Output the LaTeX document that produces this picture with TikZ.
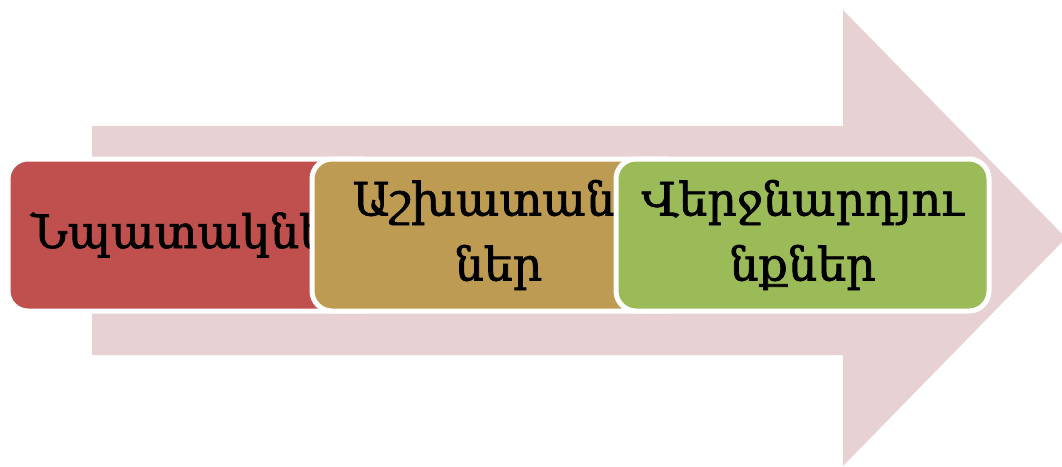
\documentclass[tikz,border=0pt]{standalone}
\usepackage{fontspec}
\newfontfamily\armfont[FakeBold=1.6]{DejaVu Serif}
\usetikzlibrary{positioning}
\definecolor{arrowpink}{RGB}{232,209,210}
\definecolor{goalred}{RGB}{192,80,77}
\definecolor{workbrown}{RGB}{190,155,83}
\definecolor{resultgreen}{RGB}{155,187,89}

\begin{document}
\begin{tikzpicture}[x=1pt,y=-1pt,
    stepbox/.style={draw=white, line width=5pt, rounded corners=20pt,
      minimum width=373pt, minimum height=152pt, inner sep=0pt,
      align=center, font=\armfont\fontsize{46}{65}\selectfont}]
    \useasboundingbox (0,0) rectangle (1062,466);

    % Big arrow
    \fill[arrowpink] (92,126) -- (843,126) -- (843,10) -- (1066,238)
        -- (843,466) -- (843,355) -- (92,355) -- cycle;

    % Steps
    \node[stepbox, fill=goalred] (goals) at (194.5,235) {Նպատակներ};
    \node[stepbox, fill=workbrown, right=-74pt of goals] (works) {Աշխատանք\\ներ};
    \node[stepbox, fill=resultgreen, right=-74pt of works] (results) {Վերջնարդյու\\նքներ};
\end{tikzpicture}
\end{document}
